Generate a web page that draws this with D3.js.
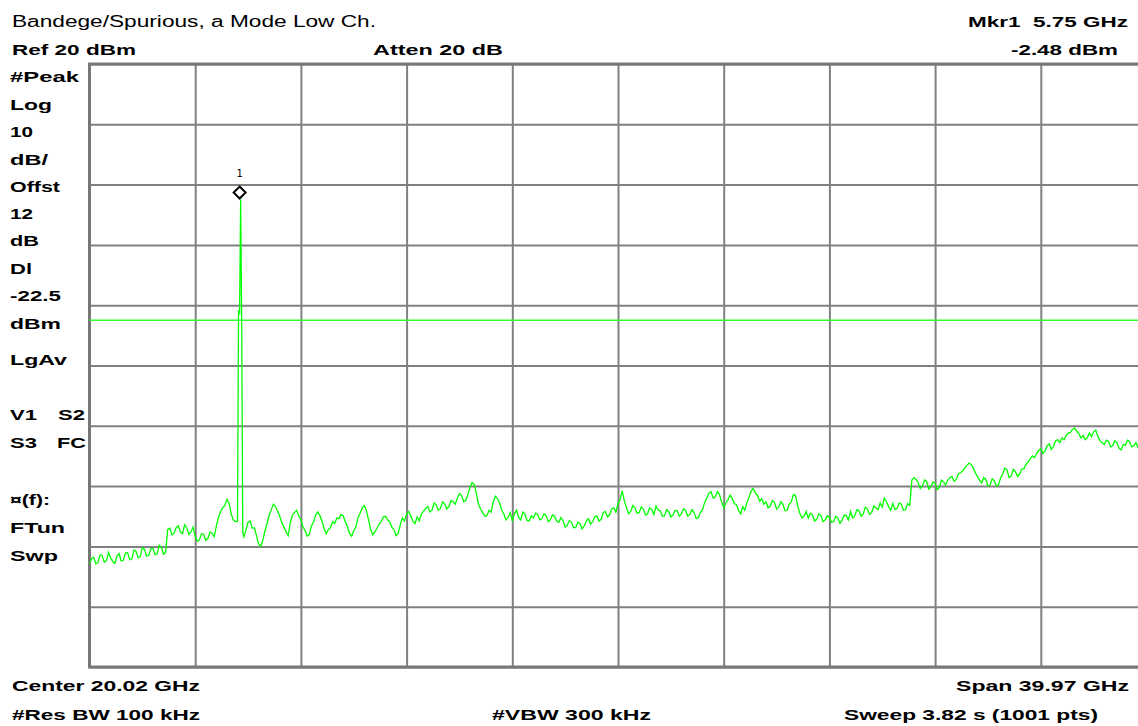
<!DOCTYPE html>
<html><head><meta charset="utf-8">
<script src="https://cdn.jsdelivr.net/npm/d3@7"></script>
<style>
body{margin:0;background:#fff;}
svg{display:block;}
text{font-family:"Liberation Sans",Arial,sans-serif;fill:#000;}
</style></head>
<body><svg id="chart" width="1138" height="726"></svg>
<script>
// ---- instrument settings ----
const startGHz = 0.035, stopGHz = 40.005;
const refLevelDbm = 20, dbPerDiv = 10, numDivs = 10;
const sweepStepGHz = 0.03997;          // 1001 sweep points
const tracePointStride = 2;           // levels read every 2nd sweep point
const displayLineDbm = -22.5;
const markerFreqGHz = 5.75, markerLevelDbm = -2.48;

// ---- trace levels (dBm), every 2nd sweep point ----
const traceLevels = [
-62.9,-62.0,-61.8,-62.9,-62.7,-61.4,-61.5,-62.6,-62.4,-61.0,
-61.9,-62.5,-62.8,-61.6,-61.2,-62.4,-62.3,-61.1,-61.0,-62.2,
-62.1,-60.6,-60.8,-61.9,-61.7,-60.2,-60.5,-61.6,-61.5,-60.4,
-60.3,-61.4,-61.2,-59.8,-60.1,-61.3,-61.0,-57.2,-57.0,-58.1,
-57.8,-56.9,-56.6,-57.6,-57.9,-56.4,-56.9,-58.0,-57.6,-56.8,
-58.3,-59.1,-58.9,-57.9,-58.0,-59.0,-58.7,-57.6,-57.8,-58.4,
-56.6,-55.2,-54.2,-53.6,-53.2,-52.2,-52.8,-54.6,-55.6,-55.9,
-55.9,-56.4,-57.0,-58.4,-57.3,-56.0,-55.8,-57.0,-56.9,-58.2,
-59.6,-60.0,-59.0,-57.4,-56.2,-54.8,-53.9,-53.0,-53.4,-54.2,
-55.0,-56.1,-56.8,-57.6,-58.2,-56.0,-54.8,-54.4,-54.0,-55.0,
-55.6,-56.8,-57.4,-58.3,-58.0,-56.6,-55.9,-54.8,-54.3,-54.9,
-55.8,-57.1,-57.9,-57.2,-56.9,-55.9,-56.2,-55.3,-55.4,-54.7,
-54.9,-55.9,-56.7,-57.8,-58.3,-57.4,-56.8,-55.2,-54.5,-53.6,
-53.2,-54.1,-55.6,-57.2,-58.1,-57.6,-57.0,-56.3,-55.9,-55.1,
-55.0,-55.6,-55.9,-56.8,-57.2,-58.2,-57.9,-56.4,-55.3,-55.8,
-54.6,-54.2,-55.0,-55.8,-56.2,-55.1,-55.8,-54.6,-54.2,-53.7,
-53.4,-54.3,-54.0,-52.8,-53.1,-54.0,-53.7,-52.6,-52.9,-53.8,
-53.4,-52.4,-52.6,-53.0,-52.0,-51.2,-51.6,-52.6,-52.4,-51.4,
-50.2,-49.4,-49.7,-51.2,-53.0,-53.8,-54.4,-55.0,-54.9,-54.0,
-54.3,-52.6,-51.7,-52.1,-52.8,-54.0,-54.6,-55.6,-55.2,-54.4,
-55.7,-54.6,-54.0,-55.2,-55.6,-54.3,-54.7,-55.7,-55.8,-54.9,
-55.3,-54.5,-54.7,-55.6,-55.4,-54.6,-54.9,-55.9,-55.6,-54.8,
-55.0,-55.8,-56.0,-55.2,-55.7,-56.8,-56.5,-55.7,-56.0,-56.9,
-56.9,-56.0,-56.2,-57.1,-56.6,-55.8,-55.4,-56.3,-55.9,-55.1,
-54.9,-55.8,-55.5,-54.4,-54.2,-55.1,-54.8,-53.8,-53.6,-54.3,
-52.9,-52.2,-50.8,-52.4,-53.6,-54.6,-54.2,-53.2,-53.6,-54.5,
-54.4,-53.5,-53.8,-54.8,-54.6,-53.6,-53.9,-54.7,-53.3,-54.0,
-54.1,-55.0,-54.9,-53.9,-54.2,-55.1,-54.8,-54.0,-54.1,-55.0,
-54.6,-53.8,-54.0,-55.0,-54.7,-53.9,-54.4,-55.4,-55.2,-54.4,
-53.9,-52.7,-52.0,-51.2,-50.9,-52.0,-51.8,-50.9,-51.4,-52.6,
-53.6,-52.8,-52.3,-51.5,-52.0,-52.9,-53.1,-54.0,-54.6,-53.4,
-54.0,-52.7,-51.8,-50.8,-50.4,-51.2,-51.5,-52.5,-52.1,-53.0,
-52.6,-53.6,-53.3,-52.4,-52.7,-53.8,-53.5,-52.6,-53.0,-54.1,
-54.0,-53.0,-52.6,-51.4,-51.6,-53.3,-54.5,-55.3,-55.0,-54.2,
-55.3,-54.5,-54.8,-55.8,-55.5,-54.6,-54.9,-55.9,-55.6,-54.9,
-55.2,-56.0,-55.9,-55.0,-55.3,-56.2,-55.7,-54.8,-54.9,-55.6,
-54.2,-55.3,-54.9,-53.9,-54.1,-55.0,-54.6,-53.5,-53.8,-54.7,
-54.4,-53.3,-53.6,-53.9,-52.8,-53.5,-52.0,-52.6,-53.4,-54.0,
-52.9,-53.9,-53.7,-52.8,-53.0,-54.0,-53.9,-52.9,-53.2,-49.0,
-48.6,-48.9,-49.4,-50.4,-50.0,-49.0,-49.2,-50.5,-50.1,-49.3,
-49.5,-50.6,-50.2,-49.0,-49.3,-49.8,-49.0,-48.6,-48.4,-49.2,
-48.9,-48.0,-47.8,-47.5,-47.0,-46.6,-46.2,-46.4,-46.9,-47.8,
-48.4,-49.0,-49.5,-48.6,-48.9,-50.0,-49.8,-48.8,-49.1,-50.0,
-49.8,-48.6,-48.0,-47.0,-47.3,-48.6,-48.3,-47.2,-47.6,-48.4,
-48.0,-47.2,-47.1,-46.4,-46.0,-45.5,-45.0,-45.3,-44.6,-44.1,
-43.8,-44.6,-44.2,-43.3,-43.0,-43.9,-43.4,-42.5,-42.3,-42.8,
-42.0,-42.3,-41.6,-41.2,-41.1,-40.6,-40.4,-40.9,-41.3,-42.0,
-41.6,-42.3,-42.0,-41.2,-41.8,-41.0,-40.7,-41.8,-42.5,-42.8,
-43.1,-42.4,-42.6,-43.5,-43.3,-42.5,-42.8,-43.7,-44.0,-43.1,
-43.2,-42.4,-42.6,-43.5,-43.3,-42.8,-43.6,-42.9,-43.0,-43.7,-43.4
];
// carrier spike around the marker, at full sweep resolution
const spikeSweepIdx = [140, 141, 142, 143, 144, 145];
const spikeLevels   = [-55.9, -20.8, -21.5, -2.48, -23.0, -57.6];

// ---- annotation texts ----
const leftLabels = ["#Peak","Log","10","dB/","Offst","12","dB","Dl","-22.5","dBm","LgAv"];

// ---- build trace ----
const byIdx = new Map();
traceLevels.forEach((v,k)=>byIdx.set(k*tracePointStride, v));
spikeSweepIdx.forEach((i,j)=>byIdx.set(i, spikeLevels[j]));
const trace = Array.from(byIdx, ([i,v])=>({i, f:startGHz + i*sweepStepGHz, v}))
  .sort((a,b)=>a.i-b.i);

// ---- layout ----
const plot = {left:89.5, top:64, divW:105.7, divH:60.3};
const plotRight = plot.left + numDivs*plot.divW;
const plotBottom = plot.top + numDivs*plot.divH;

const x = d3.scaleLinear().domain([startGHz, stopGHz]).range([plot.left, plotRight]);
const y = d3.scaleLinear().domain([refLevelDbm - numDivs*dbPerDiv, refLevelDbm]).range([plotBottom, plot.top]);

const svg = d3.select("#chart");
svg.append("rect").attr("width",1138).attr("height",726).attr("fill","#fff");

// grid
const xTicks = d3.range(numDivs+1).map(i=>startGHz + i*(stopGHz-startGHz)/numDivs);
const yTicks = d3.range(numDivs+1).map(i=>refLevelDbm - i*dbPerDiv);
const gx = svg.append("g").attr("transform",`translate(0,${plotBottom})`)
  .call(d3.axisBottom(x).tickValues(xTicks).tickSize(-(plotBottom-plot.top)).tickFormat(""));
const gy = svg.append("g").attr("transform",`translate(${plot.left},0)`)
  .call(d3.axisLeft(y).tickValues(yTicks).tickSize(-(plotRight-plot.left)).tickFormat(""));
[gx,gy].forEach(g=>{
  g.select(".domain").remove();
  g.selectAll(".tick line").attr("stroke","#808080").attr("stroke-width",2);
});
// frame
svg.append("rect").attr("x",plot.left).attr("y",plot.top)
  .attr("width",plotRight-plot.left).attr("height",plotBottom-plot.top)
  .attr("fill","none").attr("stroke","#777").attr("stroke-width",3);

// display line
svg.append("line").attr("x1",plot.left).attr("x2",plotRight)
  .attr("y1",y(displayLineDbm)).attr("y2",y(displayLineDbm))
  .attr("stroke","#33ff33").attr("stroke-width",1.6);

// trace
svg.append("defs").append("clipPath").attr("id","clip").append("rect")
  .attr("x",plot.left).attr("y",plot.top).attr("width",plotRight-plot.left).attr("height",plotBottom-plot.top);
svg.append("path").datum(trace)
  .attr("clip-path","url(#clip)")
  .attr("fill","none").attr("stroke","#00ff00").attr("stroke-width",1.3)
  .attr("d", d3.line().x(d=>x(d.f)).y(d=>y(d.v)));

// marker
const mx = x(markerFreqGHz) - 1, my = y(markerLevelDbm) - 7;
svg.append("path")
  .attr("d",`M${mx},${my-6}L${mx+6},${my}L${mx},${my+6}L${mx-6},${my}Z`)
  .attr("fill","#fff").attr("stroke","#000").attr("stroke-width",2);
svg.append("text").attr("x",mx).attr("y",my-16).attr("text-anchor","middle")
  .style("font-family","'DejaVu Sans Mono',monospace").style("font-size","10px").text("1");

// texts
function label(t, x0, x1, yb, bold, size){
  svg.append("text").attr("x",x0).attr("y",yb)
    .attr("textLength", x1-x0).attr("lengthAdjust","spacingAndGlyphs")
    .style("font-size",(size||15)+"px").style("font-weight",bold?"bold":"normal")
    .text(t);
}
label("Bandege/Spurious, a Mode Low Ch.", 12, 376, 27, false, 16);
label("Ref 20 dBm", 12, 136, 55, true);
label("Atten 20 dB", 373, 503, 55, true);
label("Mkr1\u00a0\u00a05.75 GHz", 968, 1128, 27, true);
label("-2.48 dBm", 1011, 1118, 55, true);

const leftBaselines = [82,110,137,165,192,219,246,274,301,329,365];
const leftWidths = [69,42,23,38,50,23,29,22,51,51,57];
leftLabels.forEach((t,i)=>label(t, 10, 10+leftWidths[i], leftBaselines[i], true));
label("V1", 10, 37, 420, true); label("S2", 58, 85, 420, true);
label("S3", 10, 37, 448, true); label("FC", 57, 86, 448, true);
label("\u00a4(f):", 10, 50, 505, true);
label("FTun", 10, 65, 533, true);
label("Swp", 10, 58, 561, true);

label("Center 20.02 GHz", 12, 200, 691, true);
label("Span 39.97 GHz", 956, 1129, 691, true);
label("#Res BW 100 kHz", 12, 200, 720, true);
label("#VBW 300 kHz", 492, 651, 720, true);
label("Sweep 3.82 s (1001 pts)", 844, 1098, 720, true);
</script></body></html>
